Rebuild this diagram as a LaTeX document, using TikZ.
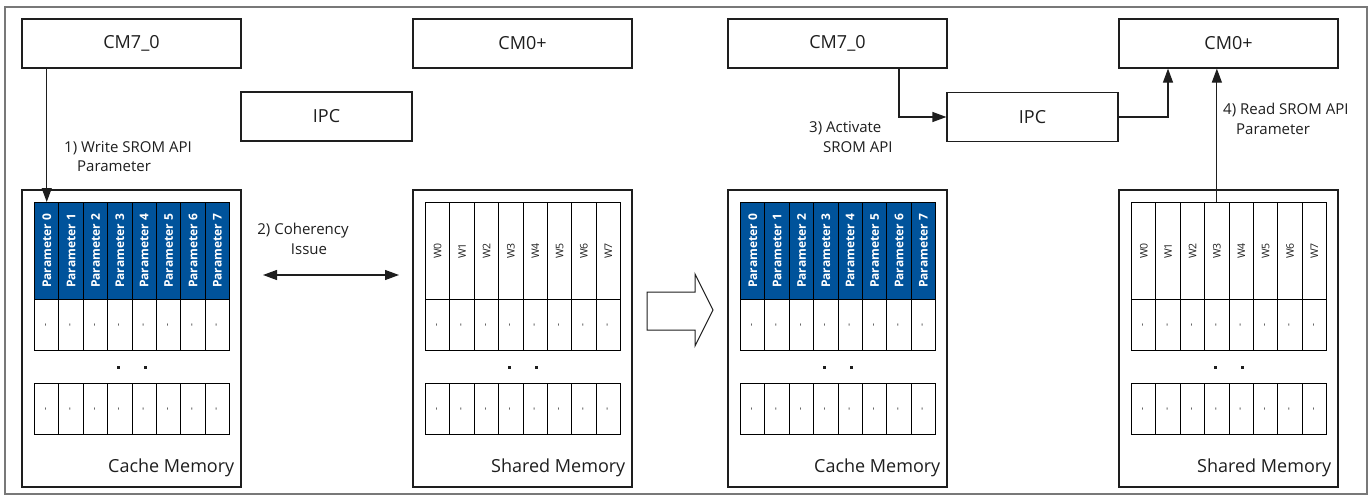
\documentclass[tikz,border=0pt]{standalone}
\usepackage{fontspec}
\setmainfont{Open Sans}
\usetikzlibrary{arrows.meta}

\definecolor{paramblue}{RGB}{0,83,155}
\definecolor{framegray}{RGB}{120,120,120}
\definecolor{ink}{RGB}{30,30,30}

\tikzset{
  unitbox/.style={draw=ink, line width=1.2pt, minimum width=219pt, minimum height=49pt,
    inner sep=0pt, text=ink, font=\fontsize{18}{22}\selectfont},
  ipcbox/.style={unitbox, minimum width=171pt},
  membox/.style={draw=ink, line width=1.2pt, minimum width=219pt, minimum height=297pt, inner sep=0pt},
  cellbase/.style={draw=black, line width=1.1pt, minimum width=24.375pt, inner sep=0pt, anchor=north west},
  paramcell/.style={cellbase, fill=paramblue, minimum height=97pt, text=white,
    font=\bfseries\fontsize{12}{14}\selectfont},
  wordcell/.style={cellbase, fill=white, minimum height=97pt, text=ink,
    font=\fontsize{10.5}{12}\selectfont},
  dashcell/.style={cellbase, minimum height=51pt, text=ink, font=\fontsize{9}{10}\selectfont},
  memtitle/.style={anchor=east, inner sep=0pt, text=ink, font=\fontsize{18}{22}\selectfont},
  lbl/.style={inner sep=0pt, text=ink, align=left, font=\fontsize{15}{19.5}\selectfont},
  arr/.style={draw=ink, line width=1.2pt, -{Triangle[length=14pt,width=10pt]}},
  dblarr/.style={draw=ink, line width=1.2pt, {Triangle[length=14pt,width=10pt]}-{Triangle[length=14pt,width=10pt]}},
}

% memory block: name prefix, left x of the box, style of the top row, text prefix of the top row, title
\newcommand{\memblock}[5]{%
  \node[membox] (#1box) at (#2+109.5, 338.5) {};
  \foreach \i in {0,...,7} {
    \node[#3] (#1t\i) at (#2+12+\i*24.375, 202) {\rotatebox{90}{#4\i}};
    \node[dashcell] (#1m\i) at (#2+12+\i*24.375, 299) {\rotatebox{90}{-}};
    \node[dashcell] (#1b\i) at (#2+12+\i*24.375, 383) {\rotatebox{90}{-}};
  }
  \fill[ink] (#2+94.5, 365.5) rectangle +(3,3);
  \fill[ink] (#2+121.5, 365.5) rectangle +(3,3);
  \node[memtitle] (#1title) at (#2+212.5, 468) {#5};
}

\begin{document}
\begin{tikzpicture}[x=1pt, y=-1pt]
  \useasboundingbox (0,0) rectangle (1370,495);
  \draw[framegray, line width=2pt] (5,7) rectangle (1367,494);

  % state before: CPU caches hold the data
  \node[unitbox] (cmA)  at (131.5, 43.5) {CM7\_0};
  \node[unitbox] (cm0A) at (522.5, 43.5) {CM0+};
  \node[ipcbox]  (ipcA) at (326.5, 116.5) {IPC};
  \memblock{ca}{22}{paramcell}{Parameter }{Cache Memory}
  \memblock{sa}{413}{wordcell}{W}{Shared Memory}

  \draw[arr] (cat0.north |- cmA.south) -- (cat0.north);
  \node[lbl, anchor=west] (lblWrite) at (64, 156.5) {1) Write SROM API\\\hspace*{13pt}Parameter};

  \coordinate (cohL) at (263, 275);
  \coordinate (cohR) at (399, 275);
  \draw[dblarr] (cohL) -- (cohR);
  \node[lbl, align=center] (lblCoh) at (303, 239) {2) Coherency\\\hspace*{12pt}Issue};

  % transition
  \draw[ink, line width=1pt, fill=white] (647,292) -- (695,292) -- (695,274) -- (713,310)
    -- (695,346) -- (695,330) -- (647,330) -- cycle;

  % state after: data handed over through IPC
  \node[unitbox] (cmB)  at (837.5, 43.5) {CM7\_0};
  \node[unitbox] (cm0B) at (1228.5, 43.5) {CM0+};
  \node[ipcbox]  (ipcB) at (1032.5, 117) {IPC};
  \memblock{cb}{728}{paramcell}{Parameter }{Cache Memory}
  \memblock{sb}{1119}{wordcell}{W}{Shared Memory}

  \draw[arr] ([xshift=61.5pt]cmB.south) |- (ipcB.west);
  \draw[arr] (ipcB.east) -| ([xshift=-60.5pt]cm0B.south);
  \draw[arr] (sbt3.north) -- (sbt3.north |- cm0B.south);

  \node[lbl, anchor=west] (lblAct) at (809, 137) {3) Activate\\\hspace*{14pt}SROM API};
  \node[lbl, anchor=west] (lblRead) at (1223, 119) {4) Read SROM API\\\hspace*{13pt}Parameter};
\end{tikzpicture}
\end{document}
